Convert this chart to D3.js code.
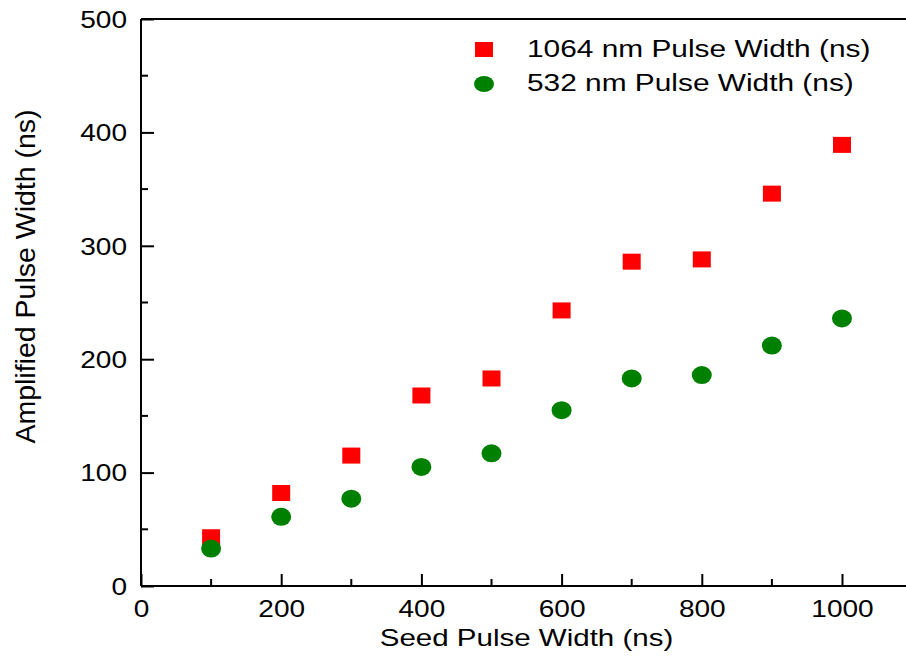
<!DOCTYPE html>
<html>
<head>
<meta charset="utf-8">
<script src="https://cdn.jsdelivr.net/npm/d3@7"></script>
<style>
  body { margin: 0; background: #fff; }
  svg { display: block; }
  text { font-family: "Liberation Sans", Arial, sans-serif; fill: #000; }
</style>
</head>
<body>
<svg id="chart" width="906" height="660"></svg>
<script>
// ---- data ----
const seedWidths = [100, 200, 300, 400, 500, 600, 700, 800, 900, 1000];
const width1064 = [43, 82, 115, 168, 183, 243, 286, 288, 346, 389];
const width532  = [33, 61, 77, 105, 117, 155, 183, 186, 212, 236];
const seriesNames = ["1064 nm Pulse Width (ns)", "532 nm Pulse Width (ns)"];
const xMajorTicks = [0, 200, 400, 600, 800, 1000];
const xMinorTicks = [100, 300, 500, 700, 900, 1100];
const yMajorTicks = [0, 100, 200, 300, 400, 500];
const yMinorTicks = [50, 150, 250, 350, 450];
const xTitle = "Seed Pulse Width (ns)";
const yTitle = "Amplified Pulse Width (ns)";

// ---- layout ----
const svg = d3.select("#chart");
const mLeft = 141, mBottom = 586, mTop = 19;
const x = d3.scaleLinear().domain([0, 1100]).range([mLeft, mLeft + 1100 * 0.701]);
const y = d3.scaleLinear().domain([0, 500]).range([mBottom, mTop]);
const SX = 1.22; // horizontal text stretch
const FONT = '"Liberation Sans", Arial, sans-serif';

// frame top line
svg.append("line")
  .attr("x1", mLeft).attr("x2", 906).attr("y1", y(500)).attr("y2", y(500))
  .attr("stroke", "#000").attr("stroke-width", 2);

// x axis
const xAxis = svg.append("g").attr("transform", `translate(0,${mBottom})`);
xAxis.call(d3.axisBottom(x).tickValues(xMajorTicks).tickSize(-12).tickPadding(0).tickFormat(d3.format("d")));
xAxis.select(".domain").attr("stroke-width", 2).attr("d", `M${mLeft},0H906`);
xAxis.selectAll(".tick line").attr("stroke-width", 2);
xAxis.selectAll(".tick text")
  .attr("font-size", 23).attr("y", 31).attr("dy", null)
  .attr("transform", `scale(${SX},1)`).attr("fill", "#000")
  .style("font-family", FONT);
xAxis.selectAll(".minor").data(xMinorTicks).enter().append("line")
  .attr("x1", d => x(d)).attr("x2", d => x(d)).attr("y1", 0).attr("y2", -7)
  .attr("stroke", "#000").attr("stroke-width", 2);

// y axis
const yAxis = svg.append("g").attr("transform", `translate(${mLeft},0)`);
yAxis.call(d3.axisLeft(y).tickValues(yMajorTicks).tickSize(-13).tickPadding(0).tickFormat(d3.format("d")));
yAxis.select(".domain").attr("stroke-width", 2).attr("d", `M0,${mBottom}V${mTop}`);
yAxis.selectAll(".tick line").attr("stroke-width", 2);
yAxis.selectAll(".tick text")
  .attr("font-size", 23).attr("x", -14 / SX).attr("dy", "0.36em")
  .attr("transform", `scale(${SX},1)`).attr("fill", "#000")
  .style("font-family", FONT);
yAxis.selectAll(".minor").data(yMinorTicks).enter().append("line")
  .attr("y1", d => y(d)).attr("y2", d => y(d)).attr("x1", 0).attr("x2", 7)
  .attr("stroke", "#000").attr("stroke-width", 2);

// titles
svg.append("text")
  .attr("transform", `translate(${(mLeft + 912) / 2},646) scale(1.23,1)`)
  .attr("text-anchor", "middle").attr("font-size", 24).text(xTitle);
svg.append("text")
  .attr("transform", `translate(35,${(mBottom + mTop) / 2 - 26}) rotate(-90)`)
  .attr("text-anchor", "middle").attr("font-size", 28.5).text(yTitle);

// markers
const sq = 18, sqh = 16;
svg.append("g").selectAll("rect").data(seedWidths).enter().append("rect")
  .attr("x", d => x(d) - sq / 2)
  .attr("y", (d, i) => y(width1064[i]) - sqh / 2)
  .attr("width", sq).attr("height", sqh).attr("fill", "#ff0000");
svg.append("g").selectAll("ellipse").data(seedWidths).enter().append("ellipse")
  .attr("cx", d => x(d)).attr("cy", (d, i) => y(width532[i]))
  .attr("rx", 10).attr("ry", 9).attr("fill", "#008000");

// legend
const lg = svg.append("g");
lg.append("rect").attr("x", 475).attr("y", 42).attr("width", 18).attr("height", 15).attr("fill", "#ff0000");
lg.append("ellipse").attr("cx", 484).attr("cy", 84).attr("rx", 10).attr("ry", 8).attr("fill", "#008000");
seriesNames.forEach((name, i) => {
  lg.append("text")
    .attr("transform", `translate(527,${57 + i * 34}) scale(1.27,1)`)
    .attr("font-size", 23.5).text(name);
});
</script>
</body>
</html>
